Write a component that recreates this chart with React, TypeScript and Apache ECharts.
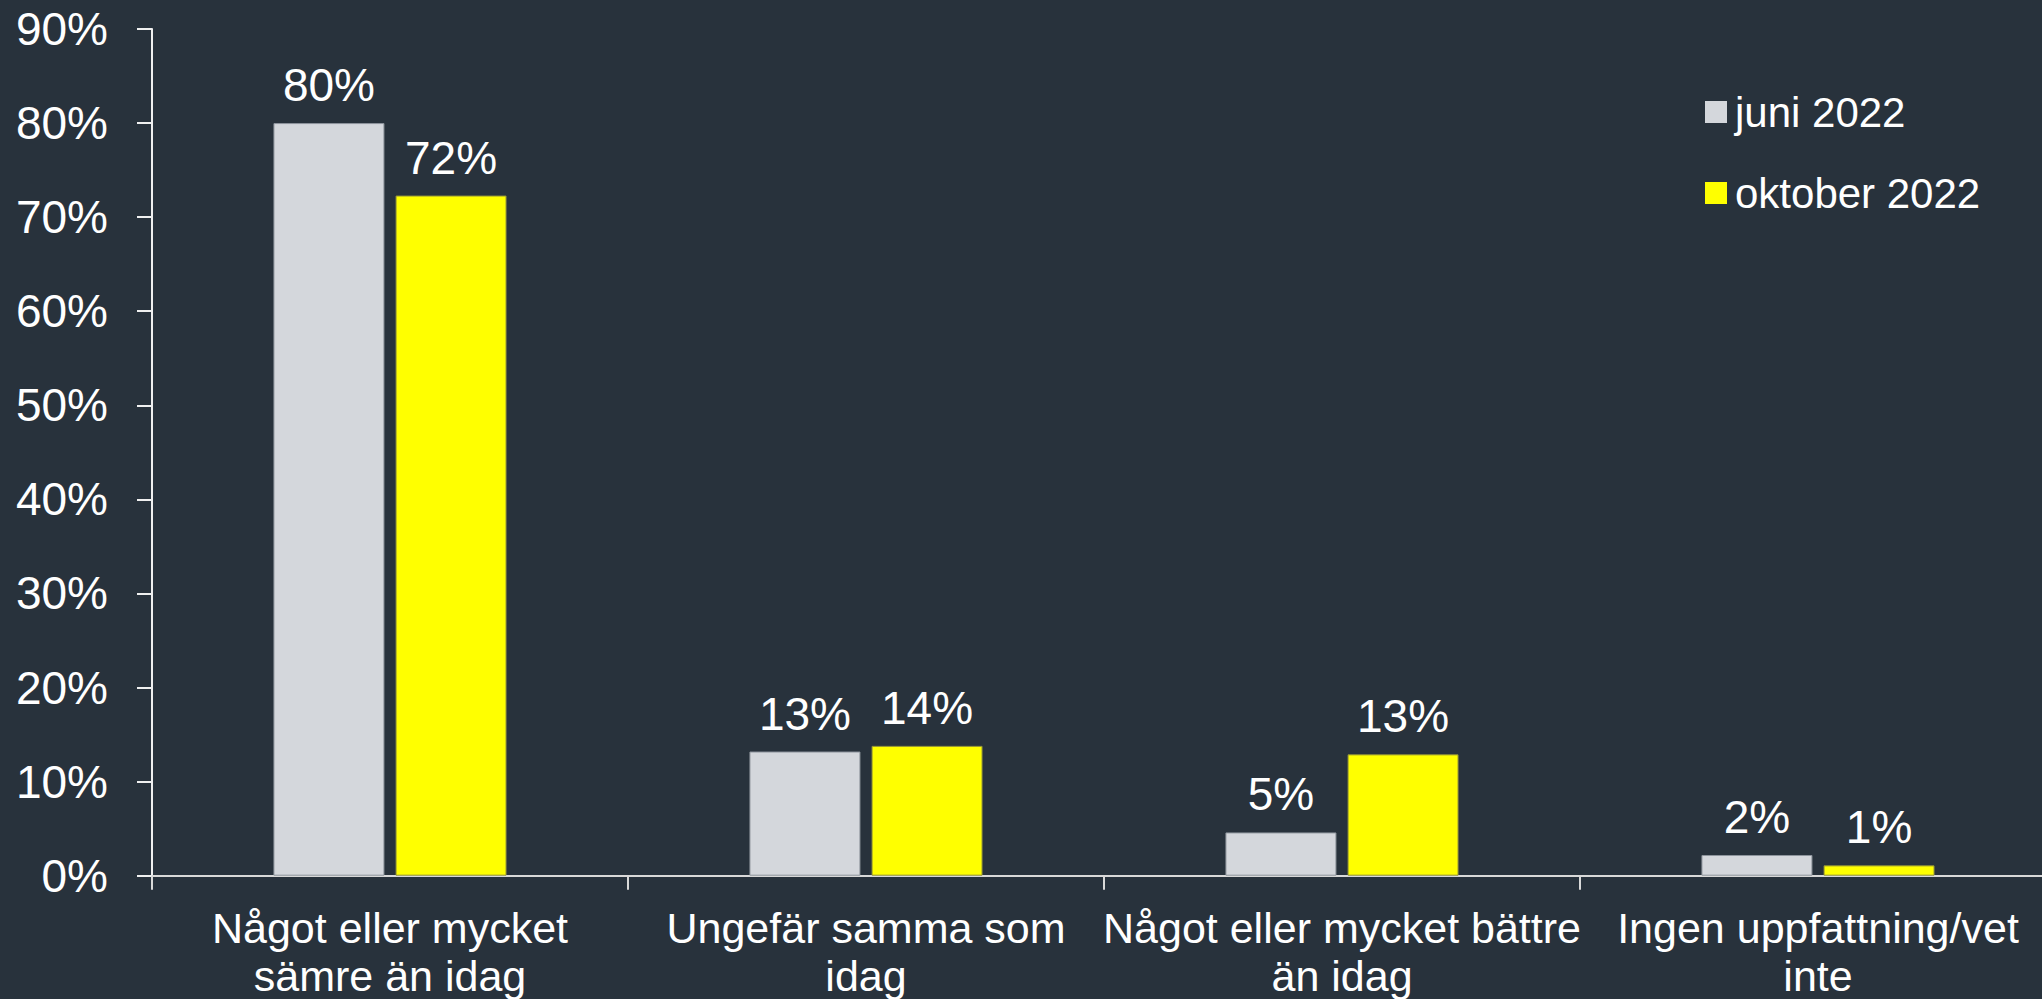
import React, { useEffect, useRef } from "react";
import * as echarts from "echarts";

const categories = [
  "Något eller mycket\nsämre än idag",
  "Ungefär samma som\nidag",
  "Något eller mycket bättre\nän idag",
  "Ingen uppfattning/vet\ninte",
];
const seriesNames = ["juni 2022", "oktober 2022"];
const juni2022 = [80.0, 13.2, 4.6, 2.2];
const oktober2022 = [72.3, 13.8, 12.9, 1.1];

const FONT = "'Liberation Sans', Arial, sans-serif";

export default function App() {
  const ref = useRef<HTMLDivElement>(null);
  useEffect(() => {
    if (!ref.current) return;
    const chart = echarts.init(ref.current, null, { renderer: "svg" });
    const labelCfg = {
      show: true,
      position: "top",
      distance: 15,
      color: "#ffffff",
      fontSize: 46,
      fontFamily: FONT,
      formatter: (p: any) => Math.round(p.value) + "%",
    };
    chart.setOption({
      animation: false,
      backgroundColor: "#28323c",
      textStyle: { fontFamily: FONT },
      grid: {
        left: 152,
        top: 29,
        right: -14,
        bottom: 123.3,
        containLabel: false,
        outerBoundsMode: "none",
      },
      legend: {
        orient: "vertical",
        left: 1700,
        top: 86,
        itemWidth: 22,
        itemHeight: 22,
        itemGap: 39,
        icon: "rect",
        data: seriesNames,
        itemStyle: { borderWidth: 0 },
        textStyle: { color: "#ffffff", fontSize: 42, lineHeight: 42, fontFamily: FONT, padding: [0, 0, 0, 3] },
      },
      xAxis: {
        type: "category",
        data: categories,
        axisLine: { show: true, lineStyle: { color: "#d9d9d9", width: 2 } },
        axisTick: { show: true, length: 14, lineStyle: { color: "#d9d9d9", width: 2 } },
        axisLabel: {
          interval: 0,
          color: "#ffffff",
          fontSize: 43,
          lineHeight: 48.5,
          margin: 28,
          fontFamily: FONT,
        },
      },
      yAxis: {
        type: "value",
        min: 0,
        max: 90,
        interval: 10,
        splitLine: { show: false },
        axisLine: { show: true, lineStyle: { color: "#f0f0f0", width: 2 } },
        axisTick: { show: true, length: 15, lineStyle: { color: "#f0f0f0", width: 2 } },
        axisLabel: {
          formatter: "{value}%",
          color: "#ffffff",
          fontSize: 46,
          margin: 44,
          fontFamily: FONT,
        },
      },
      series: [
        {
          name: seriesNames[0],
          type: "bar",
          data: juni2022,
          barWidth: 111,
          barGap: "10%",
          itemStyle: { color: "#d4d7dc", borderColor: "#8d949c", borderWidth: 1 },
          label: labelCfg,
        },
        {
          name: seriesNames[1],
          type: "bar",
          data: oktober2022,
          barWidth: 111,
          barGap: "10%",
          itemStyle: { color: "#ffff00", borderColor: "#8f8f3a", borderWidth: 1 },
          label: labelCfg,
        },
      ],
    });
    return () => chart.dispose();
  }, []);
  return (
    <div
      ref={ref}
      style={{ position: "absolute", left: 0, top: 0, width: 2042, height: 999 }}
    />
  );
}
